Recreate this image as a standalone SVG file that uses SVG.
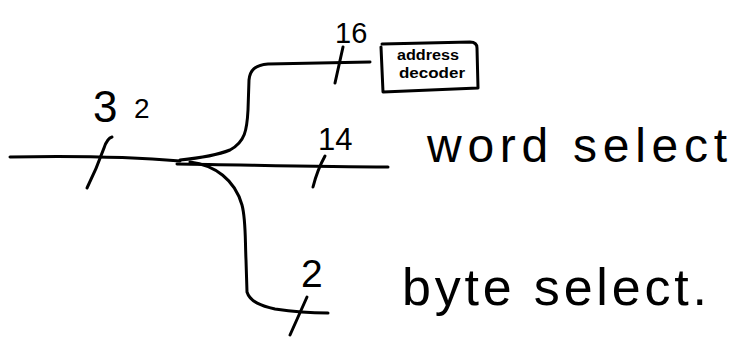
<svg xmlns="http://www.w3.org/2000/svg" width="752" height="349" viewBox="0 0 752 349">
  <style>
    .ink { fill: none; stroke: #000; stroke-width: 3; stroke-linecap: round; stroke-linejoin: round; }
    .hand { font-family: "Liberation Sans", "DejaVu Sans", sans-serif; fill: #000; }
    .small { font-family: "Liberation Sans", "DejaVu Sans", sans-serif; font-weight: bold; fill: #000; font-size: 14px; }
  </style>
  <rect width="752" height="349" fill="#fff"/>

  <!-- bus lines and branches -->
  <g id="connectors" class="ink">
    <path d="M10,157 C60,156 120,156 180,161"/>
    <path d="M177,164 C250,165 320,167 388,167"/>
    <path d="M180,160 C200,158 215,156 230,150 C245,142 247,130 248,110 L249,80 C250,70 255,65 268,64 L370,62"/>
    <path d="M190,162 C215,165 235,180 242,205 C246,220 245,240 246,260 L247,292 C250,302 262,306 275,309 C295,312 310,313 328,313"/>
    <!-- width ticks -->
    <path d="M112,137 C108,138 106,142 104,148 C99,162 93,176 87,188"/>
    <path d="M325,156 C320,165 316,175 313,187"/>
    <path d="M343,47 L335,83"/>
    <path d="M307,297 L290,335"/>
  </g>

  <!-- bit-width labels -->
  <g id="width-32">
    <text class="hand" x="93" y="122" font-size="44">3<tspan x="134" y="118" font-size="28">2</tspan></text>
  </g>
  <g id="width-16">
    <text class="hand" x="335" y="43" font-size="29">16</text>
  </g>
  <g id="width-14">
    <text class="hand" x="318" y="150" font-size="31">14</text>
  </g>
  <g id="width-2">
    <text class="hand" x="301" y="287" font-size="39">2</text>
  </g>

  <!-- address decoder box -->
  <g id="address-decoder">
    <path class="ink" d="M382,44 L470,42 C475,42 477,44 477,48 L478,88 L383,92 L381,47"/>
    <text class="small" x="397" y="60" textLength="62" lengthAdjust="spacingAndGlyphs">address</text>
    <text class="small" x="399" y="78" textLength="66" lengthAdjust="spacingAndGlyphs">decoder</text>
  </g>

  <!-- output labels -->
  <g id="word-select">
    <text class="hand" x="427" y="162" font-size="48" textLength="300" lengthAdjust="spacing">word select</text>
  </g>
  <g id="byte-select">
    <text class="hand" x="402" y="305" font-size="52" textLength="305" lengthAdjust="spacing">byte select.</text>
  </g>
</svg>
